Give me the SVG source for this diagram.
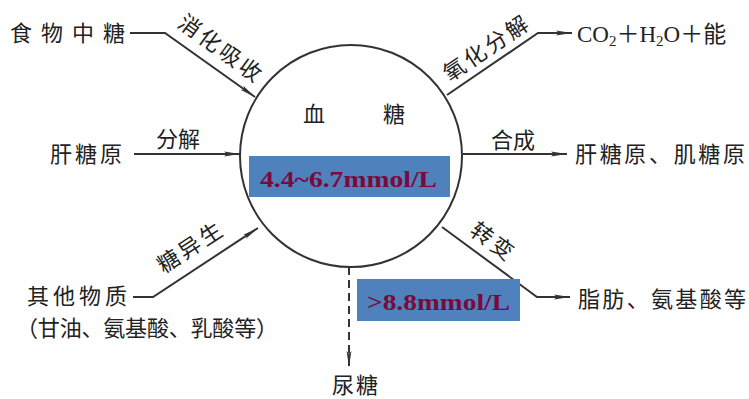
<svg xmlns="http://www.w3.org/2000/svg" width="749" height="399" viewBox="0 0 749 399">
<defs>
<marker id="ah" viewBox="0 0 16 6" refX="16" refY="3" markerWidth="16" markerHeight="6" markerUnits="userSpaceOnUse" orient="auto">
<path d="M0,0.6 L16,3 L0,5.4 L3,3 Z" fill="#333"/>
</marker>
<style>
.t{font-family:"Noto Sans CJK SC","Noto Sans",sans-serif;font-size:22px;fill:#222}
.l{font-family:"Noto Sans CJK SC","Noto Sans",sans-serif;font-size:22px;fill:#222}
.r{letter-spacing:3px}
.s{font-family:"Liberation Serif","Noto Sans CJK SC",serif;font-size:23px;fill:#222}
.v{font-family:"Liberation Serif",serif;font-weight:bold;font-size:23px;fill:#7a0a3c}
.c{fill:none;stroke:#333;stroke-width:2}
.bx{fill:#4f81bd}
</style>
</defs>
<rect width="749" height="399" fill="#fff"/>
<g id="connectors">
<path class="c" d="M130,33 L165,33 L255,97" marker-end="url(#ah)"/>
<path class="c" d="M134,154 L240,154" marker-end="url(#ah)"/>
<path class="c" d="M133,297 L153,297 L258,228" marker-end="url(#ah)"/>
<path class="c" d="M447,95 L538,33 L572,33" marker-end="url(#ah)"/>
<path class="c" d="M463,154 L567,154" marker-end="url(#ah)"/>
<path class="c" d="M442,227 L537,297 L570,297" marker-end="url(#ah)"/>
<path class="c" d="M349,267 L349,367" stroke-dasharray="8,5" marker-end="url(#ah)"/>
</g>
<g id="blood-sugar">
<circle cx="351" cy="156" r="111" fill="#fff" stroke="#333" stroke-width="2"/>
<text class="t" x="303" y="122">血</text>
<text class="t" x="383" y="122">糖</text>
<rect class="bx" x="249" y="156" width="201" height="41"/>
<text class="v" x="260" y="187" textLength="177" lengthAdjust="spacingAndGlyphs">4.4~6.7mmol/L</text>
</g>
<g id="high-box">
<rect class="bx" x="357" y="279" width="163" height="42"/>
<text class="v" x="367" y="310" textLength="143" lengthAdjust="spacingAndGlyphs">&gt;8.8mmol/L</text>
</g>
<g id="food"><text class="t" x="10" y="41" letter-spacing="9">食物中糖</text></g>
<g id="liver-glycogen"><text class="t" x="50" y="162" letter-spacing="3">肝糖原</text></g>
<g id="other"><text class="t" x="27" y="304" letter-spacing="4">其他物质</text>
<text class="t" x="16" y="336" textLength="262">（甘油、氨基酸、乳酸等）</text></g>
<g id="co2"><text class="s" x="577" y="42">CO<tspan font-size="15" dy="4">2</tspan><tspan dy="-4">＋H</tspan><tspan font-size="15" dy="4">2</tspan><tspan dy="-4">O＋能</tspan></text></g>
<g id="glycogen"><text class="t" x="575" y="162" textLength="170">肝糖原、肌糖原</text></g>
<g id="fat"><text class="t" x="578" y="307" textLength="168">脂肪、氨基酸等</text></g>
<g id="urine"><text class="t" x="332" y="393" letter-spacing="2">尿糖</text></g>
<g id="labels">
<text class="l r" text-anchor="middle" transform="translate(219,52) rotate(36)" y="4">消化吸收</text>
<text class="l" text-anchor="middle" x="178" y="147">分解</text>
<text class="l r" text-anchor="middle" transform="translate(193,250) rotate(-33)" y="4">糖异生</text>
<text class="l r" text-anchor="middle" transform="translate(489,51) rotate(-34)" y="4">氧化分解</text>
<text class="l" text-anchor="middle" x="513" y="148">合成</text>
<text class="l r" text-anchor="middle" transform="translate(491,245) rotate(36)" y="4">转变</text>
</g>
</svg>
